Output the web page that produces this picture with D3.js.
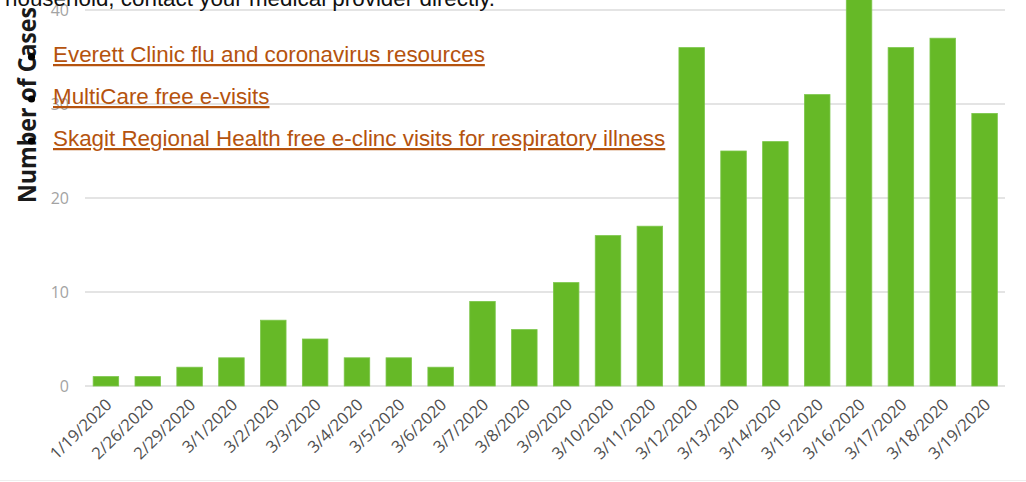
<!DOCTYPE html>
<html>
<head>
<meta charset="utf-8">
<script src="https://d3js.org/d3.v7.min.js"></script>
<style>
  body { margin: 0; background: #fff; overflow: hidden; }
  svg { display: block; }
  .grid line { stroke: #e4e4e4; stroke-width: 2; }
  .tick-y { font-family: "Open Sans", sans-serif; font-size: 16px; fill: #a3a3a3; }
  .tick-x { font-family: "Open Sans", sans-serif; font-size: 16.5px; fill: #4f4f4f; }
  .page { font-family: "Liberation Sans", Arial, sans-serif; font-size: 22.4px; }
  .link { fill: #b5530e; text-decoration: underline; }
</style>
</head>
<body>
<script>
// dates on the x axis
var dates = ["1/19/2020", "2/26/2020", "2/29/2020", "3/1/2020", "3/2/2020", "3/3/2020",
             "3/4/2020", "3/5/2020", "3/6/2020", "3/7/2020", "3/8/2020", "3/9/2020",
             "3/10/2020", "3/11/2020", "3/12/2020", "3/13/2020", "3/14/2020", "3/15/2020",
             "3/16/2020", "3/17/2020", "3/18/2020", "3/19/2020"];

// number of cases per day (3/16 runs off the top of the picture)
var cases = [1, 1, 2, 3, 7, 5, 3, 3, 2, 9, 6, 11, 16, 17, 36, 25, 26, 31, 43, 36, 37, 29];

var yTicks = [0, 10, 20, 30, 40];

// page text that sits over the chart
var pageLine = "household, contact your medical provider directly.";
var links = ["Everett Clinic flu and coronavirus resources",
             "MultiCare free e-visits",
             "Skagit Regional Health free e-clinc visits for respiratory illness"];

var width = 1026, height = 482;

var svg = d3.select("body").append("svg")
    .attr("width", width)
    .attr("height", height);

var x = d3.scaleBand()
    .domain(dates)
    .range([85, 1005.5])
    .paddingInner(0.39)
    .paddingOuter(0.195);

var y = d3.scaleLinear()
    .domain([0, 40])
    .range([386, 10]);

// gridlines
svg.append("g")
    .attr("class", "grid")
    .selectAll("line")
    .data(yTicks)
    .enter()
    .append("line")
    .attr("x1", 85)
    .attr("x2", 1005)
    .attr("y1", function(d) { return y(d); })
    .attr("y2", function(d) { return y(d); });

// y tick labels
svg.append("g")
    .selectAll("text")
    .data(yTicks)
    .enter()
    .append("text")
    .attr("class", "tick-y")
    .attr("x", 69)
    .attr("y", function(d) { return y(d) + 6; })
    .attr("text-anchor", "end")
    .text(function(d) { return d; });

// bars
svg.append("g")
    .selectAll("rect")
    .data(cases)
    .enter()
    .append("rect")
    .attr("x", function(d, i) { return x(dates[i]); })
    .attr("width", x.bandwidth())
    .attr("y", function(d) { return y(d); })
    .attr("height", function(d) { return y(0) - y(d); })
    .attr("fill", "#66b927")
    .attr("stroke", "#7cc64a")
    .attr("stroke-width", 0.8);

// x labels, turned 45 degrees
svg.append("g")
    .selectAll("text")
    .data(dates)
    .enter()
    .append("text")
    .attr("class", "tick-x")
    .attr("text-anchor", "end")
    .attr("transform", function(d) {
      return "translate(" + (x(d) + x.bandwidth() / 2 + 7) + ",406) rotate(-44)";
    })
    .text(function(d) { return d; });

// y axis title
svg.append("text")
    .attr("transform", "translate(36,203) rotate(-90)")
    .attr("font-family", "'Open Sans', sans-serif")
    .attr("font-weight", "bold")
    .attr("font-size", 25)
    .attr("fill", "#1a1a1a")
    .attr("textLength", 196)
    .attr("lengthAdjust", "spacingAndGlyphs")
    .text("Number of Cases");

// faint edge at the bottom of the picture
svg.append("line")
    .attr("x1", 0).attr("x2", width)
    .attr("y1", 480.5).attr("y2", 480.5)
    .attr("stroke", "#eeeeee");

// the web page text laid over the chart
var page = svg.append("g").attr("class", "page");

page.append("text")
    .attr("x", 5)
    .attr("y", 6)
    .attr("fill", "#111")
    .text(pageLine);

var items = page.selectAll(".item")
    .data(links)
    .enter()
    .append("g")
    .attr("class", "item")
    .attr("transform", function(d, i) { return "translate(0," + (62 + i * 42) + ")"; });

items.append("circle")
    .attr("cx", 31.5)
    .attr("cy", -5)
    .attr("r", 3.6)
    .attr("fill", "#000");

items.append("text")
    .attr("class", "link")
    .attr("x", 53)
    .attr("y", 0)
    .text(function(d) { return d; });
</script>
</body>
</html>
